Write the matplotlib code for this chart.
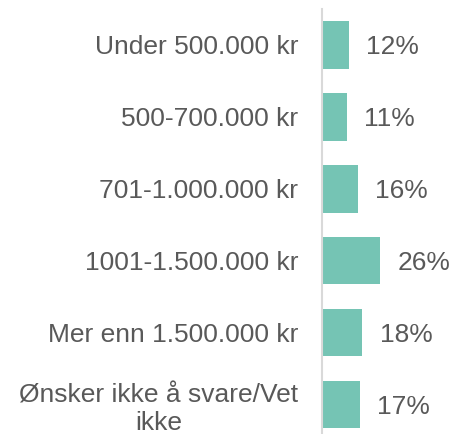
import matplotlib
matplotlib.use("Agg")
import matplotlib.pyplot as plt

categories = ["Under 500.000 kr", "500-700.000 kr", "701-1.000.000 kr",
              "1001-1.500.000 kr", "Mer enn 1.500.000 kr",
              "Ønsker ikke å svare/Vet\nikke"]
values = [12, 11, 16, 26, 18, 17]
value_labels = ["12%", "11%", "16%", "26%", "18%", "17%"]

plt.rcParams['font.family'] = ['Liberation Sans', 'DejaVu Sans']

fig = plt.figure(figsize=(4.56, 4.34), dpi=100)
ax = fig.add_axes([322/456, 0.0, 1 - 322/456, 1 - 9/434])

pos = list(range(len(categories)))
bars = ax.barh(pos, values, height=0.66, color="#75C4B4", zorder=2)
for b, lab in zip(bars, value_labels):
    ax.annotate(lab, (b.get_width(), b.get_y() + b.get_height()/2),
                xytext=(12.5, -1.5), textcoords="offset points",
                ha="left", va="center", fontsize=19, color="#595959")

ax.set_xlim(0, 60)
ax.set_ylim(5.41, -0.5)
ax.set_yticks(pos)
ax.set_yticklabels(categories, fontsize=19, color="#595959",
                   multialignment="center")
ax.tick_params(axis="y", length=0, pad=17)
ax.set_xticks([])
for s in ["top", "right", "bottom"]:
    ax.spines[s].set_visible(False)
ax.spines["left"].set_color("#D9D9D9")
ax.spines["left"].set_linewidth(1.5)

fig.savefig("out.png", dpi=100)
